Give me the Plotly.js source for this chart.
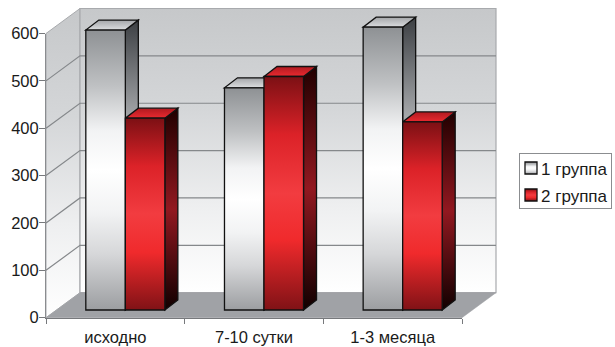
<!DOCTYPE html>
<html>
<head>
<meta charset="utf-8">
<script src="https://cdn.plot.ly/plotly-3.0.1.min.js"></script>
<style>html,body{margin:0;padding:0;background:#fff;overflow:hidden}</style>
</head>
<body>
<div id="chart" style="width:615px;height:347px"></div>
<script>
// Chart values
const categories = ['исходно', '7-10 сутки', '1-3 месяца'];
const group1 = [591, 469, 597];
const group2 = [405, 493, 397];
const seriesNames = ['1 группа', '2 группа'];
const yTicks = [0, 100, 200, 300, 400, 500, 600];

const W = 615, H = 347;
// Pixel frame of the front (axis) plane
const axisLeft = 46, axisRight = 462, axisBottom = 317.7, axisTop = 33.5;
const pxX = (axisRight - axisLeft) / categories.length;
const pxY = (axisBottom - axisTop) / 600;
// The bars stand on a plane pushed back into the box; depth in pixels
const barShift = {x: 10, y: 7.7};
const wallShift = {x: 34, y: 25};
const barDepth = {x: 13, y: 10};
const barGap = 0.43;
const halfBar = (1 - barGap) / 2;

// Frame of the plane that carries the bars, wide enough to hold the whole box
const frame = {l: 40, r: 500, t: 6, b: 321};
const cat0Px = axisLeft + pxX / 2 + barShift.x;
const zeroPx = axisBottom - barShift.y;
const xRange = [(frame.l - cat0Px) / pxX, (frame.r - cat0Px) / pxX];
const yRange = [(zeroPx - frame.b) / pxY, (zeroPx - frame.t) / pxY];

// Offsets from bar plane data units to the other planes
const toFront = {x: -barShift.x / pxX, y: -barShift.y / pxY};
const toBack = {x: (wallShift.x - barShift.x) / pxX, y: (wallShift.y - barShift.y) / pxY};
const depth = {x: barDepth.x / pxX, y: barDepth.y / pxY};

const x0 = -0.5, x1 = categories.length - 0.5, yMax = yTicks[yTicks.length - 1];
const poly = pts => 'M' + pts.map(p => p[0] + ' ' + p[1]).join('L') + 'Z';

const shapes = [];
const shapeFills = [];
function addFace(pts, fill, line, width, grad) {
  shapes.push({type: 'path', xref: 'x', yref: 'y', layer: 'between', path: poly(pts),
    fillcolor: fill, line: {color: line, width: width}});
  shapeFills.push(grad || null);
}

const F = toFront, B = toBack;
// Left wall, back wall, floor
addFace([[x0+F.x,F.y],[x0+B.x,B.y],[x0+B.x,yMax+B.y],[x0+F.x,yMax+F.y]], '#dddddd', '#a8aaad', 1, 'wall');
addFace([[x0+B.x,B.y],[x1+B.x,B.y],[x1+B.x,yMax+B.y],[x0+B.x,yMax+B.y]], '#dddddd', '#a8aaad', 1.2, 'wall');
addFace([[x0+F.x,F.y],[x1+F.x,F.y],[x1+B.x,B.y],[x0+B.x,B.y]], '#a0a2a6', '#a0a2a6', 0.5);

// Gridlines run along the left wall and across the back wall
yTicks.slice(1, -1).forEach(v => {
  shapes.push({type: 'path', xref: 'x', yref: 'y', layer: 'between',
    path: `M${x0+F.x} ${v+F.y}L${x0+B.x} ${v+B.y}L${x1+B.x} ${v+B.y}`,
    line: {color: '#85888b', width: 1.2}});
  shapeFills.push('none');
});

// Top and side faces of every bar
categories.forEach((c, i) => {
  [[group1[i], i - halfBar, 'g'], [group2[i], i, 'r']].forEach(([v, left, key]) => {
    const right = left + halfBar;
    addFace([[right,0],[right+depth.x,depth.y],[right+depth.x,v+depth.y],[right,v]],
      key === 'g' ? '#6a6d70' : '#5a0a0c', '#111', 1.3, key + 'Side');
    addFace([[left,v],[right,v],[right+depth.x,v+depth.y],[left+depth.x,v+depth.y]],
      key === 'g' ? '#c4c6c8' : '#d8222a', '#111', 1.3, key + 'Top');
  });
});

const barStyle = (color) => ({color: color, line: {color: '#111', width: 1.3}});
const data = [
  {type: 'bar', name: seriesNames[0], x: categories, y: group1, xaxis: 'x', yaxis: 'y', marker: barStyle('#d0d2d4'), hoverinfo: 'skip'},
  {type: 'bar', name: seriesNames[1], x: categories, y: group2, xaxis: 'x', yaxis: 'y', marker: barStyle('#e02428'), hoverinfo: 'skip'},
  // Keeps the front-plane axes alive; it draws nothing itself
  {type: 'scatter', mode: 'none', x: categories, y: group1, xaxis: 'x2', yaxis: 'y2', showlegend: false, hoverinfo: 'skip'}
];

const textFont = {family: '"Liberation Sans", Arial, sans-serif', size: 16.5, color: '#1a1a1a'};
const layout = {
  width: W, height: H,
  margin: {l: 0, r: 0, t: 0, b: 0, autoexpand: false},
  paper_bgcolor: '#fff', plot_bgcolor: 'rgba(0,0,0,0)',
  barmode: 'group', bargap: barGap, bargroupgap: 0,
  showlegend: true,
  legend: {x: 519 / W, y: 1 - 153 / H, xanchor: 'left', yanchor: 'top',
    bgcolor: '#fff', bordercolor: '#8b8d90', borderwidth: 1,
    font: Object.assign({}, textFont, {size: 17})},
  // Bar plane: positions only, no visible axis
  xaxis: {type: 'category', categoryorder: 'array', categoryarray: categories, visible: false,
    domain: [frame.l / W, frame.r / W], range: xRange, anchor: 'y', fixedrange: true},
  yaxis: {visible: false, domain: [1 - frame.b / H, 1 - frame.t / H], range: yRange, anchor: 'x', fixedrange: true},
  // Front plane: the axes that are drawn
  xaxis2: {type: 'category', categoryorder: 'array', categoryarray: categories, tickson: 'boundaries',
    domain: [axisLeft / W, axisRight / W], range: [x0, x1], anchor: 'y2',
    showline: true, linecolor: '#77797c', linewidth: 1, ticks: 'outside', ticklen: 5, tickcolor: '#77797c',
    showgrid: false, tickfont: textFont, ticklabelstandoff: 4, fixedrange: true},
  yaxis2: {domain: [1 - axisBottom / H, 1 - axisTop / H], range: [0, yMax], anchor: 'x2',
    tickmode: 'array', tickvals: yTicks, showline: true, linecolor: '#8a8c8f', linewidth: 1,
    ticks: 'outside', ticklen: 6, tickcolor: '#77797c', showgrid: false, zeroline: false,
    ticklabelstandoff: -3, tickfont: textFont, fixedrange: true},
  shapes: shapes
};

const gradients = {
  wall:  [[0,'#c6c8ca'],[0.35,'#d4d6d8'],[0.7,'#eeeff0'],[1,'#ffffff']],
  g:     [[0,'#8e9194'],[0.2,'#bfc1c3'],[0.36,'#f2f3f4'],[0.5,'#ffffff'],[0.65,'#f2f3f4'],[0.8,'#d6d7d9'],[1,'#9c9ea1']],
  r:     [[0,'#7c1014'],[0.25,'#dc2228'],[0.5,'#f23c40'],[0.7,'#f02a2c'],[1,'#801216']],
  gSide: [[0,'#3c3f43'],[0.5,'#d8dadc'],[1,'#3c3f43']],
  rSide: [[0,'#200000'],[0.5,'#921820'],[1,'#100000']],
  gTop:  [[0,'#a4a6a9'],[1,'#dcdee0']],
  rTop:  [[0,'#b01a20'],[1,'#ea2a30']]
};

Plotly.newPlot('chart', data, layout, {displayModeBar: false, staticPlot: true}).then(gd => {
  // Vertical shading is applied to the drawn faces through SVG gradients
  const ns = 'http://www.w3.org/2000/svg';
  const defs = document.createElementNS(ns, 'defs');
  Object.keys(gradients).forEach(k => {
    const g = document.createElementNS(ns, 'linearGradient');
    g.setAttribute('id', 'shade-' + k);
    g.setAttribute('x1', '0'); g.setAttribute('y1', '0');
    g.setAttribute('x2', '0'); g.setAttribute('y2', '1');
    gradients[k].forEach(([o, c]) => {
      const s = document.createElementNS(ns, 'stop');
      s.setAttribute('offset', o); s.setAttribute('stop-color', c);
      g.appendChild(s);
    });
    defs.appendChild(g);
  });
  gd.querySelector('svg.main-svg').appendChild(defs);

  gd.querySelectorAll('.shapelayer path').forEach(p => {
    const key = shapeFills[+p.getAttribute('data-index')];
    if (key && key !== 'none') p.style.fill = 'url(#shade-' + key + ')';
  });
  gd.querySelectorAll('.barlayer .trace').forEach((t, i) => {
    const key = i === 0 ? 'g' : 'r';
    t.querySelectorAll('.point path').forEach(p => { p.style.fill = 'url(#shade-' + key + ')'; });
  });

  // Compact legend box
  const legend = gd.querySelector('.legend');
  const bg = legend.querySelector('.bg');
  bg.setAttribute('width', 92); bg.setAttribute('height', 55);
  const box = legend.querySelector('.scrollbox');
  box.removeAttribute('clip-path');
  legend.querySelectorAll('.traces').forEach((t, i) => {
    t.setAttribute('transform', 'translate(0,' + (15 + i * 27) + ')');
    const icon = t.querySelector('.legendpoints');
    if (icon) icon.setAttribute('transform', 'translate(-8,0)');
    const swatch = t.querySelector('.legendpoints path');
    if (swatch) swatch.style.fill = 'url(#shade-' + (i === 0 ? 'g' : 'r') + ')';
    const label = t.querySelector('.legendtext');
    label.setAttribute('x', 22);
    const toggle = t.querySelector('.legendtoggle');
    if (toggle) toggle.setAttribute('width', 90);
  });
});
</script>
</body>
</html>
